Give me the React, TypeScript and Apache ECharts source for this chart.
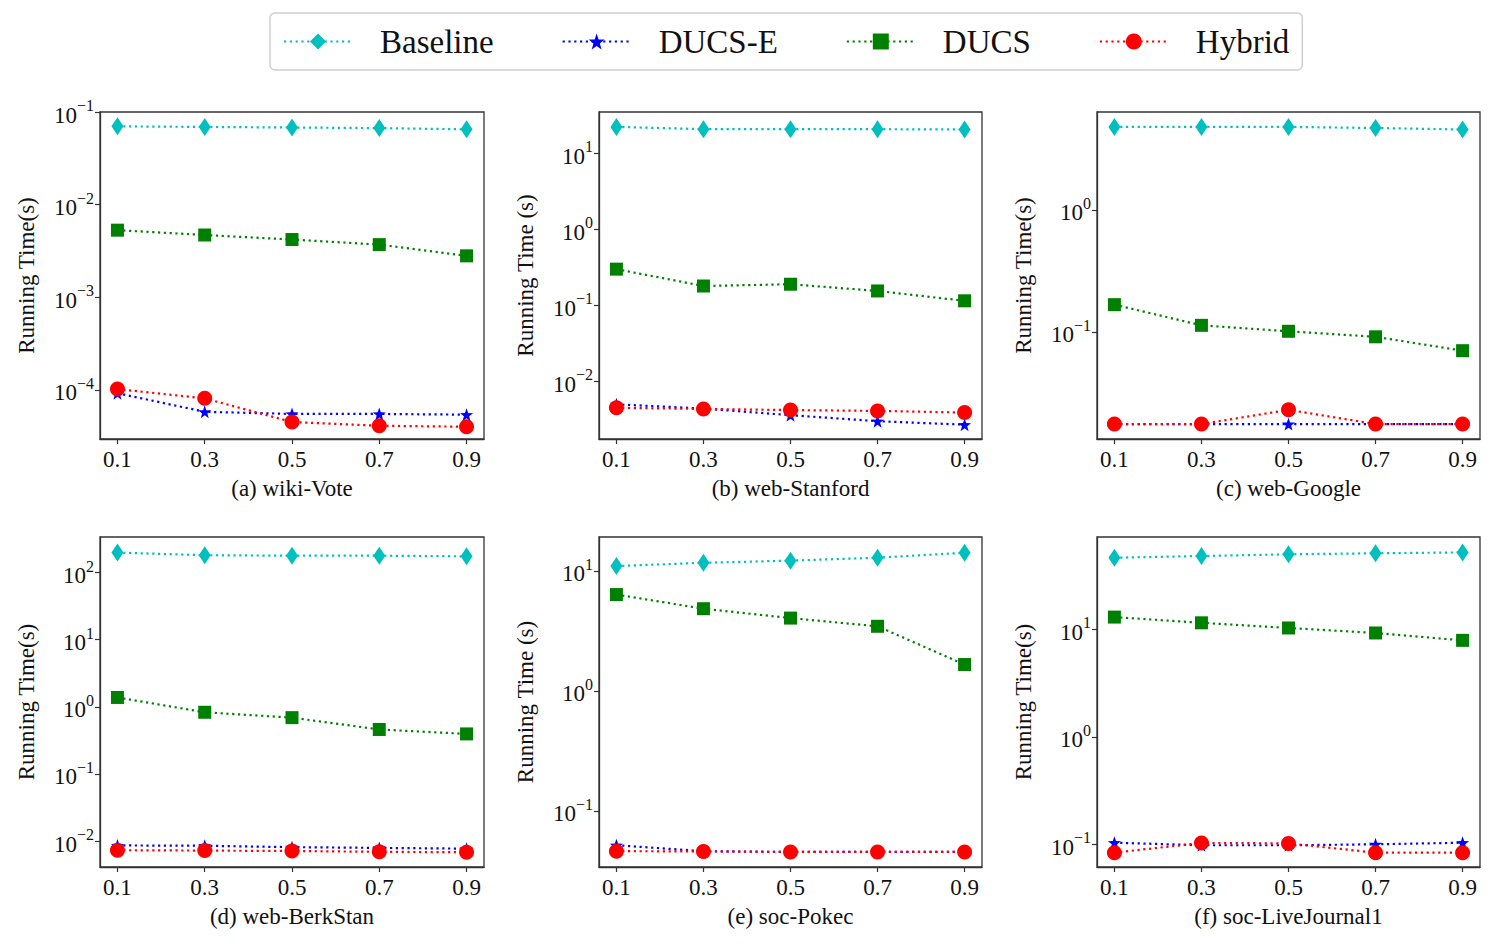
import React, { useEffect, useRef } from "react";
import * as echarts from "echarts";

// ---- data ----
const xValues = [0.1, 0.3, 0.5, 0.7, 0.9];
const seriesNames = ["Baseline", "DUCS-E", "DUCS", "Hybrid"];
const panelTitles = [
  "(a) wiki-Vote",
  "(b) web-Stanford",
  "(c) web-Google",
  "(d) web-BerkStan",
  "(e) soc-Pokec",
  "(f) soc-LiveJournal1",
];
const yAxisNames = [
  "Running Time(s)",
  "Running Time (s)",
  "Running Time(s)",
  "Running Time(s)",
  "Running Time (s)",
  "Running Time(s)",
];

// (a) wiki-Vote
const baselineA = [0.07, 0.069, 0.068, 0.067, 0.065];
const ducsEA = [9.2e-5, 5.8e-5, 5.5e-5, 5.5e-5, 5.4e-5];
const ducsA = [5.3e-3, 4.7e-3, 4.2e-3, 3.7e-3, 2.8e-3];
const hybridA = [1.02e-4, 8.1e-5, 4.5e-5, 4.1e-5, 4.0e-5];
// (b) web-Stanford
const baselineB = [22.3, 20.8, 20.8, 20.8, 20.6];
const ducsEB = [5.0e-3, 4.4e-3, 3.6e-3, 3.0e-3, 2.7e-3];
const ducsB = [0.3, 0.18, 0.19, 0.155, 0.115];
const hybridB = [4.5e-3, 4.35e-3, 4.2e-3, 4.1e-3, 3.9e-3];
// (c) web-Google
const baselineC = [4.8, 4.8, 4.8, 4.7, 4.57];
const ducsEC = [0.0175, 0.0175, 0.0175, 0.0175, 0.0175];
const ducsC = [0.167, 0.113, 0.101, 0.091, 0.07];
const hybridC = [0.0175, 0.0175, 0.0229, 0.0175, 0.0175];
// (d) web-BerkStan
const baselineD = [199, 182, 179, 179, 175];
const ducsED = [8.6e-3, 8.5e-3, 8.1e-3, 7.9e-3, 7.7e-3];
const ducsD = [1.38, 0.83, 0.69, 0.46, 0.395];
const hybridD = [7.3e-3, 7.2e-3, 7.1e-3, 6.9e-3, 6.8e-3];
// (e) soc-Pokec
const baselineE = [11.0, 11.7, 12.2, 12.9, 14.2];
const ducsEE = [0.0518, 0.0462, 0.0455, 0.0455, 0.0455];
const ducsE = [6.36, 4.85, 4.05, 3.46, 1.66];
const hybridE = [0.0462, 0.046, 0.0455, 0.0455, 0.0455];
// (f) soc-LiveJournal1
const baselineF = [46.4, 48.1, 49.9, 51, 52];
const ducsEF = [0.1035, 0.098, 0.098, 0.1, 0.1035];
const ducsF = [13.0, 11.5, 10.3, 9.25, 7.9];
const hybridF = [0.0836, 0.103, 0.102, 0.0836, 0.0836];

const panelData = [
  [baselineA, ducsEA, ducsA, hybridA],
  [baselineB, ducsEB, ducsB, hybridB],
  [baselineC, ducsEC, ducsC, hybridC],
  [baselineD, ducsED, ducsD, hybridD],
  [baselineE, ducsEE, ducsE, hybridE],
  [baselineF, ducsEF, ducsF, hybridF],
];

const yTicks = [
  [1e-4, 1e-3, 1e-2, 1e-1],
  [1e-2, 1e-1, 1, 10],
  [1e-1, 1],
  [1e-2, 1e-1, 1, 10, 100],
  [1e-1, 1, 10],
  [1e-1, 1, 10],
];
const yMins = [2.95e-5, 1.75e-3, 0.0132, 4.1e-3, 0.0341, 0.0615];
const yMaxs = [0.1, 35, 6.36, 340, 19.2, 72.3];
const xTicks = [0.1, 0.3, 0.5, 0.7, 0.9];

// ---- styles ----
const FONT = "'Liberation Serif', 'DejaVu Serif', serif";
const colors = ["#00bfbf", "#0000ff", "#008000", "#ff0000"];
const STAR =
  "path://M100 0 L123.5 67.6 L195.1 69.1 L138 112.4 L158.8 180.9 L100 140 L41.2 180.9 L62 112.4 L4.9 69.1 L76.5 67.6 Z";
const symbols = ["diamond", STAR, "rect", "circle"];
const symbolSizes: any[] = [[12, 18], 13, 13, 15];

const gridLefts = [100, 599, 1097];
const gridTops = [112, 537];
const gridWidths = [384, 383, 383];
const gridHeights = [327, 330];

function supLabel(v: number) {
  const e = Math.round(Math.log10(v));
  const s = e < 0 ? "\u2212" + Math.abs(e) : String(e);
  return "{b|10}{s|" + s + "}";
}

export default function App() {
  const ref = useRef<HTMLDivElement>(null);
  useEffect(() => {
    if (!ref.current) return;
    const chart = echarts.init(ref.current, undefined, { renderer: "svg" });
    const grids: any[] = [];
    const xAxes: any[] = [];
    const yAxes: any[] = [];
    const series: any[] = [];
    for (let p = 0; p < 6; p++) {
      const col = p % 3;
      const row = Math.floor(p / 3);
      grids.push({
        left: gridLefts[col],
        top: gridTops[row],
        width: gridWidths[col],
        height: gridHeights[row],
        show: true,
        borderColor: "#333",
        borderWidth: 1.3,
        containLabel: false,
      });
      xAxes.push({
        type: "value",
        gridIndex: p,
        min: 0.06,
        max: 0.94,
        name: panelTitles[p],
        nameLocation: "middle",
        nameGap: 38,
        nameTextStyle: { fontFamily: FONT, fontSize: 23, color: "#111" },
        axisLine: { show: true, lineStyle: { color: "#333", width: 1.3 } },
        axisTick: {
          show: true,
          length: 5,
          customValues: xTicks,
          lineStyle: { color: "#333", width: 1.2 },
        },
        axisLabel: {
          customValues: xTicks,
          margin: 9,
          fontFamily: FONT,
          fontSize: 23,
          color: "#111",
          formatter: (v: number) => v.toFixed(1),
        },
        splitLine: { show: false },
      });
      yAxes.push({
        type: "log",
        logBase: 10,
        gridIndex: p,
        min: yMins[p],
        max: yMaxs[p],
        name: yAxisNames[p],
        nameLocation: "middle",
        nameGap: 62,
        nameTextStyle: { fontFamily: FONT, fontSize: 23, color: "#111" },
        axisLine: { show: true, lineStyle: { color: "#333", width: 1.3 } },
        axisTick: {
          show: true,
          length: 5,
          customValues: yTicks[p],
          lineStyle: { color: "#333", width: 1.2 },
        },
        axisLabel: {
          customValues: yTicks[p],
          margin: 6,
          formatter: supLabel,
          rich: {
            b: {
              fontFamily: FONT,
              fontSize: 23,
              lineHeight: 29,
              color: "#111",
              verticalAlign: "bottom",
            },
            s: {
              fontFamily: FONT,
              fontSize: 16,
              lineHeight: 16,
              color: "#111",
              verticalAlign: "top",
            },
          },
        },
        splitLine: { show: false },
        minorTick: { show: false },
      });
      for (let s = 0; s < 4; s++) {
        const vals = panelData[p][s];
        series.push({
          type: "line",
          name: seriesNames[s],
          xAxisIndex: p,
          yAxisIndex: p,
          data: xValues.map((x, j) => [x, vals[j]]),
          symbol: symbols[s],
          symbolSize: symbolSizes[s],
          showAllSymbol: true,
          color: colors[s],
          itemStyle: { color: colors[s] },
          lineStyle: { color: colors[s], width: 2.2, type: [2.2, 3.6] },
          emphasis: { disabled: true },
          z: 2 + s,
        });
      }
    }
    chart.setOption({
      animation: false,
      backgroundColor: "#fff",
      legend: {
        data: seriesNames,
        left: 270,
        top: 13,
        itemWidth: 68,
        itemHeight: 20,
        itemGap: 68,
        padding: [12, 13, 12, 13],
        borderColor: "#cfcfcf",
        borderWidth: 1.5,
        borderRadius: 5,
        backgroundColor: "#fff",
        selectedMode: false,
        textStyle: {
          fontFamily: FONT,
          fontSize: 33,
          color: "#111",
          padding: [0, 0, 0, 23],
        },
      },
      grid: grids,
      xAxis: xAxes,
      yAxis: yAxes,
      series,
    });
    return () => chart.dispose();
  }, []);
  return (
    <div
      ref={ref}
      style={{
        position: "fixed",
        left: 0,
        top: 0,
        width: 1503,
        height: 946,
        background: "#fff",
      }}
    />
  );
}
